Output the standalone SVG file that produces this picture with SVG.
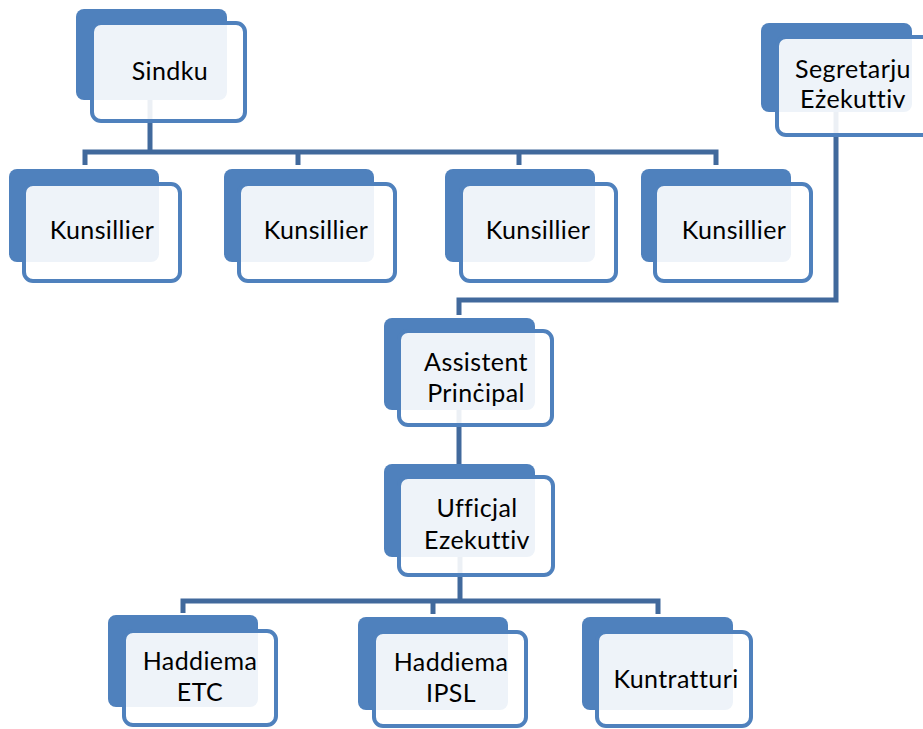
<svg xmlns="http://www.w3.org/2000/svg" width="923" height="729" viewBox="0 0 923 729">
<style>
.back{fill:#4F81BD;}
.front{fill:#FFFFFF;fill-opacity:0.9;stroke:#4F81BD;stroke-width:4;}
.conn{fill:none;stroke:#41699C;stroke-width:5;stroke-linejoin:miter;stroke-linecap:butt;}
text{font-family:Lato,"Open Sans","Liberation Sans",sans-serif;font-size:25px;fill:#000;text-anchor:middle;letter-spacing:0.4px;font-variant-ligatures:none;font-feature-settings:"liga" 0,"dlig" 0;}
</style>
<rect width="923" height="729" fill="#FFFFFF"/>
<g id="connectors">
<polyline class="conn" points="150,100 150,152"/>
<polyline class="conn" points="85,165 85,152 716,152 716,165"/>
<polyline class="conn" points="298,152 298,165"/>
<polyline class="conn" points="519,152 519,165"/>
<polyline class="conn" points="836,112 836,300 459,300 459,315"/>
<polyline class="conn" points="459,410 459,464"/>
<polyline class="conn" points="460,557 460,601"/>
<polyline class="conn" points="183,613 183,601 658,601 658,614"/>
<polyline class="conn" points="433,601 433,614"/>
</g>
<g id="sindku">
<rect class="back" x="76" y="9" width="151" height="91" rx="8"/>
<rect class="front" x="92" y="23" width="153" height="98" rx="9"/>
<text x="170" y="80">Sindku</text>
</g>
<g id="kunsillier1">
<rect class="back" x="9" y="169" width="150" height="93" rx="8"/>
<rect class="front" x="24" y="184" width="156" height="97" rx="9"/>
<text x="102" y="239">Kunsillier</text>
</g>
<g id="kunsillier2">
<rect class="back" x="224" y="169" width="150" height="93" rx="8"/>
<rect class="front" x="239" y="184" width="156" height="97" rx="9"/>
<text x="316" y="239">Kunsillier</text>
</g>
<g id="kunsillier3">
<rect class="back" x="445" y="169" width="150" height="93" rx="8"/>
<rect class="front" x="461" y="184" width="155" height="97" rx="9"/>
<text x="538" y="239">Kunsillier</text>
</g>
<g id="kunsillier4">
<rect class="back" x="641" y="169" width="150" height="93" rx="8"/>
<rect class="front" x="655" y="184" width="156" height="97" rx="9"/>
<text x="734" y="239">Kunsillier</text>
</g>
<g id="segretarju">
<rect class="back" x="761" y="23" width="151" height="89" rx="8"/>
<rect class="front" x="777" y="37" width="156" height="98" rx="9"/>
<text x="853" y="78">Segretarju</text>
<text x="853" y="108">Eżekuttiv</text>
</g>
<g id="assistent">
<rect class="back" x="384" y="318" width="151" height="92" rx="8"/>
<rect class="front" x="399" y="331" width="153" height="94" rx="9"/>
<text x="476" y="371">Assistent</text>
<text x="476" y="402">Prinċipal</text>
</g>
<g id="ufficjal">
<rect class="back" x="384" y="464" width="151" height="93" rx="8"/>
<rect class="front" x="399" y="477" width="154" height="98" rx="9"/>
<text x="477" y="517">Ufficjal</text>
<text x="477" y="549">Ezekuttiv</text>
</g>
<g id="haddiema-etc">
<rect class="back" x="108" y="615" width="150" height="92" rx="8"/>
<rect class="front" x="124" y="631" width="152" height="94" rx="9"/>
<text x="200" y="670">Haddiema</text>
<text x="200" y="701">ETC</text>
</g>
<g id="haddiema-ipsl">
<rect class="back" x="358" y="617" width="150" height="93" rx="8"/>
<rect class="front" x="374" y="632" width="152" height="94" rx="9"/>
<text x="451" y="671">Haddiema</text>
<text x="451" y="702">IPSL</text>
</g>
<g id="kuntratturi">
<rect class="back" x="582" y="617" width="151" height="93" rx="8"/>
<rect class="front" x="597" y="632" width="154" height="94" rx="9"/>
<text x="676" y="688">Kuntratturi</text>
</g>
</svg>
